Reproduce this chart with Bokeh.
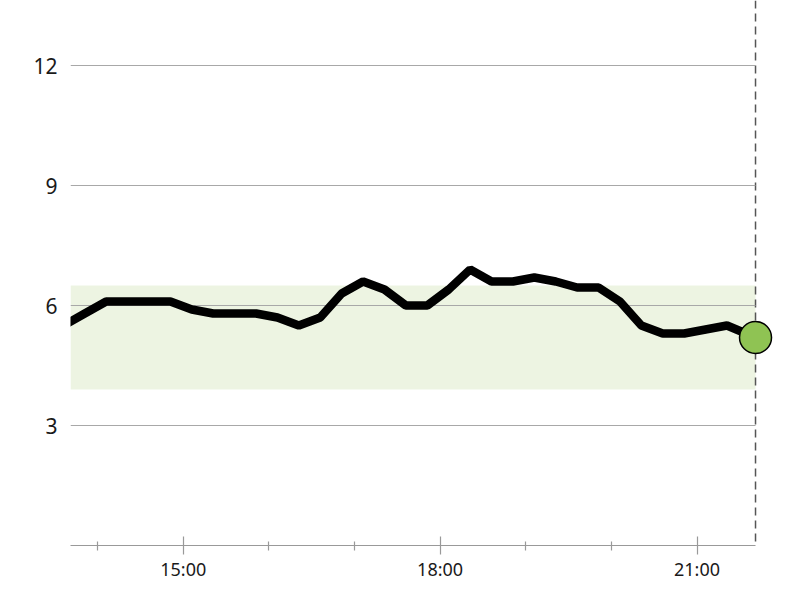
import pandas as pd
from bokeh.plotting import figure
from bokeh.models import Range1d, FixedTicker, BoxAnnotation, Span, DatetimeTickFormatter
from bokeh.embed import file_html
from bokeh.resources import INLINE

DAY = "2024-01-01 "

# glucose readings (mmol/L) every 15 minutes, last one is the current reading
times = ["13:36", "13:51", "14:06", "14:21", "14:36", "14:51", "15:06", "15:21",
         "15:36", "15:51", "16:06", "16:21", "16:36", "16:51", "17:06", "17:21",
         "17:36", "17:51", "18:06", "18:21", "18:36", "18:51", "19:06", "19:21",
         "19:36", "19:51", "20:06", "20:21", "20:36", "20:51", "21:06", "21:21",
         "21:41"]
values = [5.5, 5.8, 6.1, 6.1, 6.1, 6.1, 5.9, 5.8,
          5.8, 5.8, 5.7, 5.5, 5.7, 6.3, 6.6, 6.4,
          6.0, 6.0, 6.4, 6.9, 6.6, 6.6, 6.7, 6.6,
          6.45, 6.45, 6.1, 5.5, 5.3, 5.3, 5.4, 5.5,
          5.2]
now_time = "21:41"
now_value = 5.2

target_low, target_high = 3.9, 6.5
y_ticks = [3, 6, 9, 12]
major_hours = ["15:00", "18:00", "21:00"]
minor_hours = ["14:00", "16:00", "17:00", "19:00", "20:00"]

x_start = "13:41"
x_end = "21:55"
y_start, y_end = 0, 13.625

def ts(t):
    return pd.Timestamp(DAY + t)

def ms(t):
    return ts(t).value / 1e6

xs = [ts(t) for t in times]

p = figure(x_axis_type="datetime", output_backend="svg", toolbar_location=None,
           frame_width=705, frame_height=545,
           min_border_left=70, min_border_right=8, min_border_top=0, min_border_bottom=48,
           x_range=Range1d(ts(x_start), ts(x_end)), y_range=Range1d(y_start, y_end))
p.outline_line_color = None
p.background_fill_color = "white"

# target band
p.add_layout(BoxAnnotation(bottom=target_low, top=target_high,
                           left=ts(x_start), right=ts(now_time),
                           fill_color="#c5dca0", fill_alpha=0.3, line_color=None,
                           level="underlay"))

# horizontal grid lines, ending at the current time
p.xgrid.visible = False
p.ygrid.visible = False
p.segment(x0=[ts(x_start)] * len(y_ticks), x1=[ts(now_time)] * len(y_ticks),
          y0=y_ticks, y1=y_ticks, line_color="#a8a8a8", line_width=1)

# y axis
p.yaxis.ticker = FixedTicker(ticks=y_ticks)
p.yaxis.axis_line_color = None
p.yaxis.major_tick_line_color = None
p.yaxis.minor_tick_line_color = None
p.yaxis.major_label_standoff = 7
p.yaxis.major_label_text_font = "Noto Sans"
p.yaxis.major_label_text_font_size = "21px"
p.yaxis.major_label_text_color = "#1a1a1a"

# x axis
p.xaxis.ticker = FixedTicker(ticks=[ms(t) for t in major_hours],
                             minor_ticks=[ms(t) for t in minor_hours])
p.xaxis.formatter = DatetimeTickFormatter(hours="%H:%M", minutes="%H:%M", hourmin="%H:%M")
p.xaxis.bounds = (ms(x_start), ms(now_time))
p.xaxis.axis_line_color = "#999999"
p.xaxis.axis_line_width = 1.2
p.xaxis.major_tick_line_color = "#999999"
p.xaxis.major_tick_line_width = 1.2
p.xaxis.major_tick_in = 9
p.xaxis.major_tick_out = 9
p.xaxis.minor_tick_line_color = "#999999"
p.xaxis.minor_tick_line_width = 1.2
p.xaxis.minor_tick_in = 4
p.xaxis.minor_tick_out = 5
p.xaxis.major_label_standoff = 2
p.xaxis.major_label_text_font = "Noto Sans"
p.xaxis.major_label_text_font_size = "18px"
p.xaxis.major_label_text_color = "#1a1a1a"

# current time marker (behind the glyphs)
p.add_layout(Span(location=ms(now_time), dimension="height", line_color="#555555",
                  line_width=1.5, line_dash="8 5", level="underlay"))

# glucose line
p.line(xs, values, line_color="black", line_width=8.5)

# current reading
p.scatter([ts(now_time)], [now_value], size=32, fill_color="#8fc353",
          line_color="black", line_width=1.5)

open("out.html", "w").write(file_html(p, INLINE))
